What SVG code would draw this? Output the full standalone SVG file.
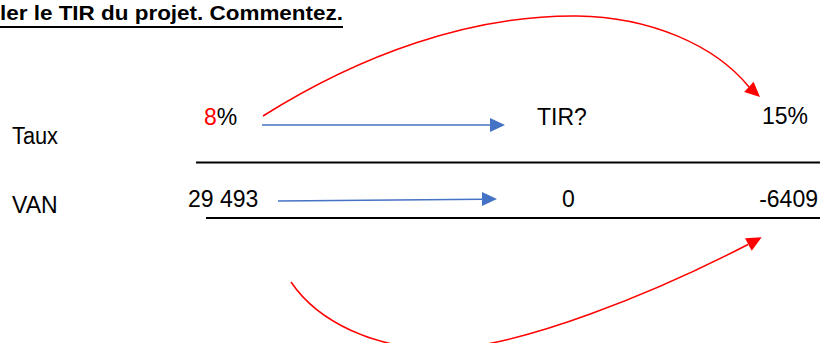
<svg xmlns="http://www.w3.org/2000/svg" width="820" height="343" viewBox="0 0 820 343">
  <style>
    .t { font-family: "Liberation Sans", Arial, sans-serif; font-size: 23px; fill: #000; }
    .title { font-family: "Liberation Sans", Arial, sans-serif; font-size: 21px; font-weight: bold; fill: #000; }
    .red { fill: #FF0000; }
    .rule { stroke: #000; stroke-width: 2; }
    .blue { stroke: #4472C4; stroke-width: 1.6; fill: none; }
    .blueHead { fill: #4472C4; }
    .redArc { stroke: #FF0000; stroke-width: 1.5; fill: none; }
    .redHead { fill: #FF0000; }
  </style>
  <rect width="820" height="343" fill="#fff"/>

  <g id="title">
    <text class="title" x="0" y="20" textLength="343" lengthAdjust="spacingAndGlyphs">ler le TIR du projet. Commentez.</text>
    <line x1="0" y1="27" x2="343" y2="27" class="rule"/>
  </g>

  <g id="label-taux"><text class="t" x="12" y="144" textLength="46" lengthAdjust="spacingAndGlyphs">Taux</text></g>
  <g id="taux-8"><text class="t" x="204" y="125"><tspan class="red">8</tspan>%</text></g>
  <g id="taux-tir"><text class="t" x="537" y="125">TIR?</text></g>
  <g id="taux-15"><text class="t" x="808" y="124" text-anchor="end">15%</text></g>

  <g id="rule-1"><line x1="196" y1="162.5" x2="820" y2="162.5" class="rule"/></g>

  <g id="label-van"><text class="t" x="12" y="213">VAN</text></g>
  <g id="van-29493"><text class="t" x="188" y="207">29 493</text></g>
  <g id="van-0"><text class="t" x="562" y="207">0</text></g>
  <g id="van-6409"><text class="t" x="818" y="207" text-anchor="end">-6409</text></g>

  <g id="rule-2"><line x1="206" y1="218" x2="820" y2="218" class="rule"/></g>

  <g id="connectors">
    <line x1="262" y1="125" x2="491" y2="125" class="blue"/>
    <polygon points="505,125 490,118 490,132" class="blueHead"/>
    <line x1="278" y1="201" x2="483" y2="199.2" class="blue"/>
    <polygon points="497,199 482,192 482,206" class="blueHead"/>
    <path d="M263,116 C360,55 470,15 577,16 C650,17 715,45 749,87" class="redArc"/>
    <polygon points="760,97 744.2,92.1 753.6,81.7" class="redHead"/>
    <path d="M291,282 C318,322 375,349 440,349 C520,349 660,290 748,244.5" class="redArc"/>
    <polygon points="761.7,237.3 745,238.3 751.7,250.7" class="redHead"/>
  </g>
</svg>
